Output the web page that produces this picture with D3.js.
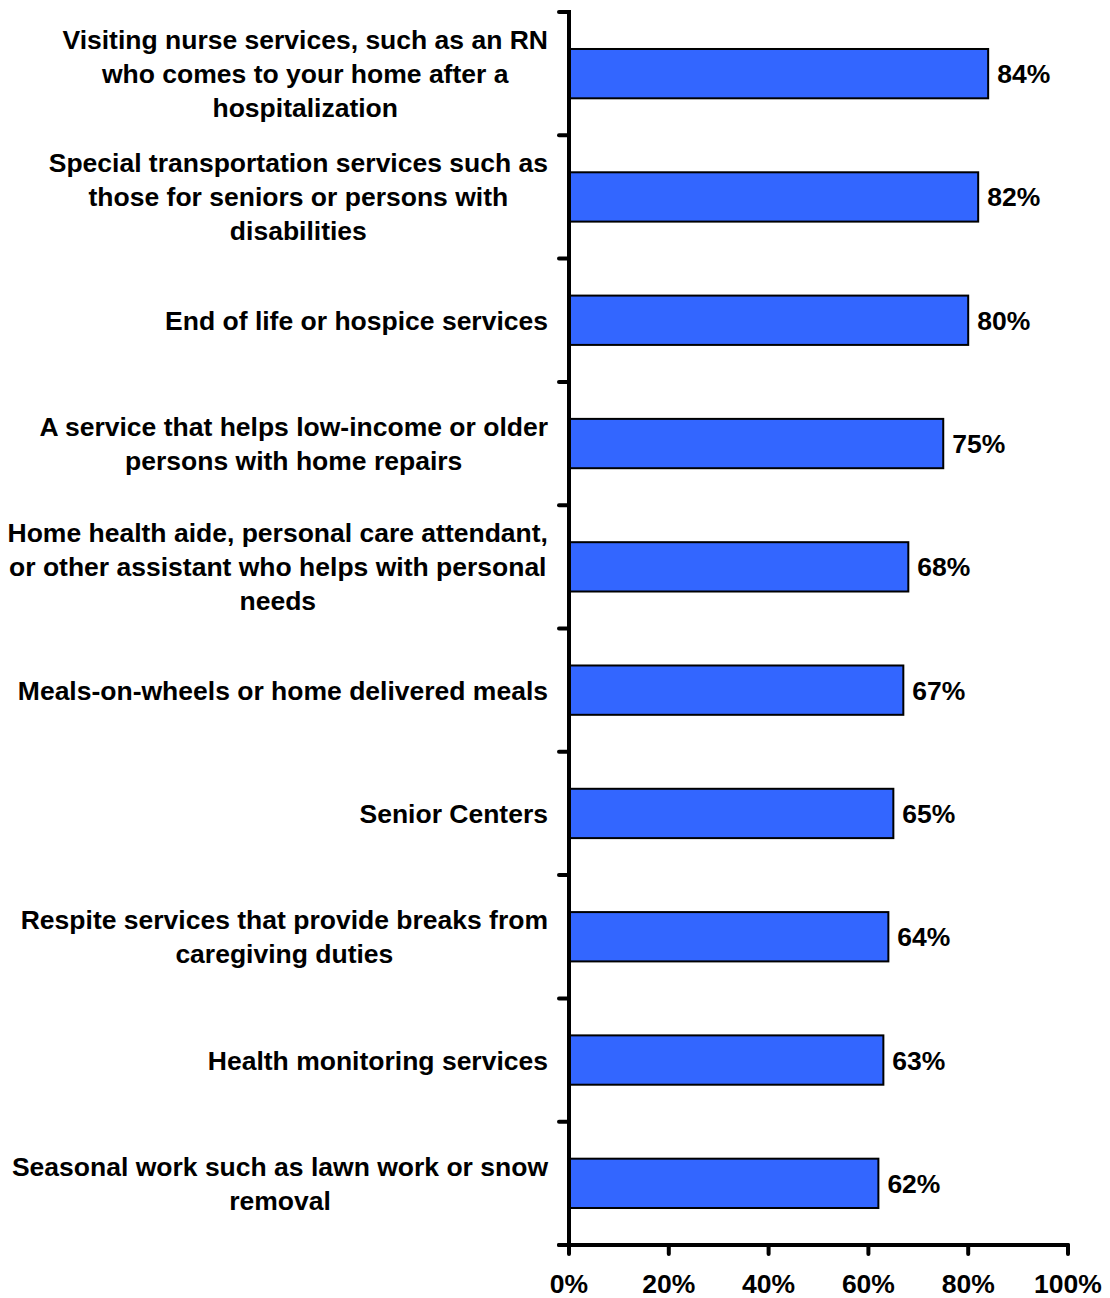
<!DOCTYPE html>
<html>
<head>
<meta charset="utf-8">
<script src="https://cdn.jsdelivr.net/npm/d3@7"></script>
<style>
  html, body { margin: 0; padding: 0; background: #fff; }
  svg { display: block; }
  text { font-family: "Liberation Sans", Arial, sans-serif; font-weight: bold; fill: #000; }
</style>
</head>
<body>
<svg id="chart" width="1110" height="1298"></svg>
<script>
const categories = [
  ["Visiting nurse services, such as an RN", "who comes to your home after a", "hospitalization"],
  ["Special transportation services such as", "those for seniors or persons with", "disabilities"],
  ["End of life or hospice services"],
  ["A service that helps low-income or older", "persons with home repairs"],
  ["Home health aide, personal care attendant,", "or other assistant who helps with personal", "needs"],
  ["Meals-on-wheels or home delivered meals"],
  ["Senior Centers"],
  ["Respite services that provide breaks from", "caregiving duties"],
  ["Health monitoring services"],
  ["Seasonal work such as lawn work or snow", "removal"]
];
const values = [84, 82, 80, 75, 68, 67, 65, 64, 63, 62];
const xTicks = [0, 20, 40, 60, 80, 100];

const svg = d3.select("#chart");
const x0 = 569, x1 = 1068, yTop = 12, yBot = 1245;
const fontSize = 26.5, lineH = 34;

const x = d3.scaleLinear().domain([0, 100]).range([x0, x1]);
const y = d3.scaleBand().domain(d3.range(categories.length)).range([yTop, yBot]).paddingInner(0.6).paddingOuter(0.3);
const yb = d3.scaleBand().domain(d3.range(categories.length)).range([yTop, yBot]);

// bars
svg.append("g").selectAll("rect").data(values).join("rect")
  .attr("x", x(0))
  .attr("y", (d, i) => y(i))
  .attr("width", d => x(d) - x(0))
  .attr("height", y.bandwidth())
  .attr("fill", "#3366FF")
  .attr("stroke", "#000")
  .attr("stroke-width", 2);

// value labels
svg.append("g").selectAll("text").data(values).join("text")
  .attr("x", d => x(d) + 9)
  .attr("y", (d, i) => y(i) + y.bandwidth() / 2)
  .attr("dy", "0.36em")
  .style("font-size", fontSize + "px")
  .text(d => d + "%");

// category labels
const labelRight = 548;
const lg = svg.append("g");
categories.forEach((lines, i) => {
  const cy = yb(i) + yb.bandwidth() / 2;
  const t = lg.append("text").style("font-size", fontSize + "px").attr("text-anchor", "middle");
  const spans = lines.map((ln, j) => t.append("tspan")
    .attr("y", cy + (j - (lines.length - 1) / 2) * lineH)
    .attr("dy", "0.36em")
    .text(ln));
  const maxW = d3.max(spans, s => s.node().getComputedTextLength());
  const cx = labelRight - maxW / 2;
  spans.forEach(s => s.attr("x", cx));
});

// y axis
const ya = svg.append("g");
ya.append("line").attr("x1", x0).attr("x2", x0).attr("y1", yTop).attr("y2", yBot)
  .attr("stroke", "#000").attr("stroke-width", 4).attr("stroke-linecap", "square");
ya.selectAll("line.t").data(d3.range(categories.length + 1)).join("line").attr("class", "t")
  .attr("x1", x0 - 10).attr("x2", x0)
  .attr("y1", i => i < categories.length ? yb(i) : yBot)
  .attr("y2", i => i < categories.length ? yb(i) : yBot)
  .attr("stroke", "#000").attr("stroke-width", 4).attr("stroke-linecap", "round");

// x axis
const xa = svg.append("g");
xa.append("line").attr("x1", x0 - 10).attr("x2", x1).attr("y1", yBot).attr("y2", yBot)
  .attr("stroke", "#000").attr("stroke-width", 4).attr("stroke-linecap", "round");
xa.selectAll("line.t").data(xTicks).join("line").attr("class", "t")
  .attr("x1", d => x(d)).attr("x2", d => x(d))
  .attr("y1", yBot).attr("y2", yBot + 9)
  .attr("stroke", "#000").attr("stroke-width", 4).attr("stroke-linecap", "round");
xa.selectAll("text").data(xTicks).join("text")
  .attr("x", d => x(d))
  .attr("y", 1283)
  .attr("dy", "0.36em")
  .attr("text-anchor", "middle")
  .style("font-size", fontSize + "px")
  .text(d => d + "%");
</script>
</body>
</html>
